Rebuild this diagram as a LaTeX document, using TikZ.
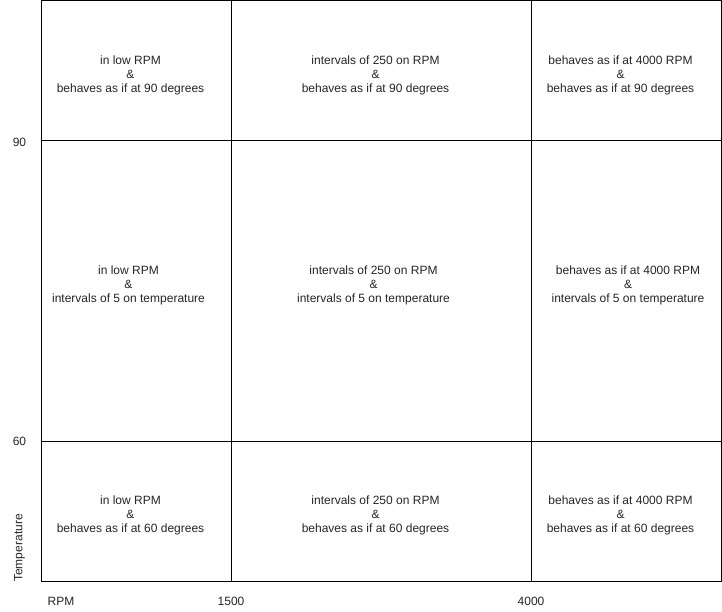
\documentclass[tikz,border=0pt]{standalone}
\usepackage{fontspec}
\setmainfont{Liberation Sans}
\begin{document}
\begin{tikzpicture}[x=1pt,y=-1pt,
  cell/.style={draw=black,line width=1pt,inner sep=0pt,anchor=north west},
  txt/.style={align=center,font=\fontsize{12}{14}\selectfont,text=black!85,inner sep=0pt},
  lbl/.style={font=\fontsize{12}{14}\selectfont,text=black!85,inner sep=0pt}]
\useasboundingbox (0,0) rectangle (722,612);
\fill[white] (0,0) rectangle (722,612);
% cells
\node[cell,minimum width=190pt,minimum height=140pt] (c11) at (40.5,0.5) {};
\node[cell,minimum width=300pt,minimum height=140pt] (c12) at (230.5,0.5) {};
\node[cell,minimum width=190pt,minimum height=140pt] (c13) at (530.5,0.5) {};
\node[cell,minimum width=190pt,minimum height=300pt] (c21) at (40.5,140.5) {};
\node[cell,minimum width=300pt,minimum height=300pt] (c22) at (230.5,140.5) {};
\node[cell,minimum width=190pt,minimum height=300pt] (c23) at (530.5,140.5) {};
\node[cell,minimum width=190pt,minimum height=140pt] (c31) at (40.5,440.5) {};
\node[cell,minimum width=300pt,minimum height=140pt] (c32) at (230.5,440.5) {};
\node[cell,minimum width=190pt,minimum height=140pt] (c33) at (530.5,440.5) {};
% texts
\node[txt] (t11) at (130.5,75) {in low RPM\\\&\\behaves as if at 90 degrees};
\node[txt] (t12) at (375.5,75) {intervals of 250 on RPM\\\&\\behaves as if at 90 degrees};
\node[txt] (t13) at (620.5,75) {behaves as if at 4000 RPM\\\&\\behaves as if at 90 degrees};
\node[txt] (t21) at (128.5,285) {in low RPM\\\&\\intervals of 5 on temperature};
\node[txt] (t22) at (373.5,285) {intervals of 250 on RPM\\\&\\intervals of 5 on temperature};
\node[txt] (t23) at (628,285) {behaves as if at 4000 RPM\\\&\\intervals of 5 on temperature};
\node[txt] (t31) at (130.5,515) {in low RPM\\\&\\behaves as if at 60 degrees};
\node[txt] (t32) at (375.5,515) {intervals of 250 on RPM\\\&\\behaves as if at 60 degrees};
\node[txt] (t33) at (620.5,515) {behaves as if at 4000 RPM\\\&\\behaves as if at 60 degrees};
% axis labels
\node[lbl] (l90) at (19.5,142) {90};
\node[lbl] (l60) at (19.5,441) {60};
\node[lbl,rotate=90] (ltemp) at (19.5,548) {Temperature};
\node[lbl] (lrpm) at (61,601) {RPM};
\node[lbl] (l1500) at (231,601) {1500};
\node[lbl] (l4000) at (531,601) {4000};
\end{tikzpicture}
\end{document}
